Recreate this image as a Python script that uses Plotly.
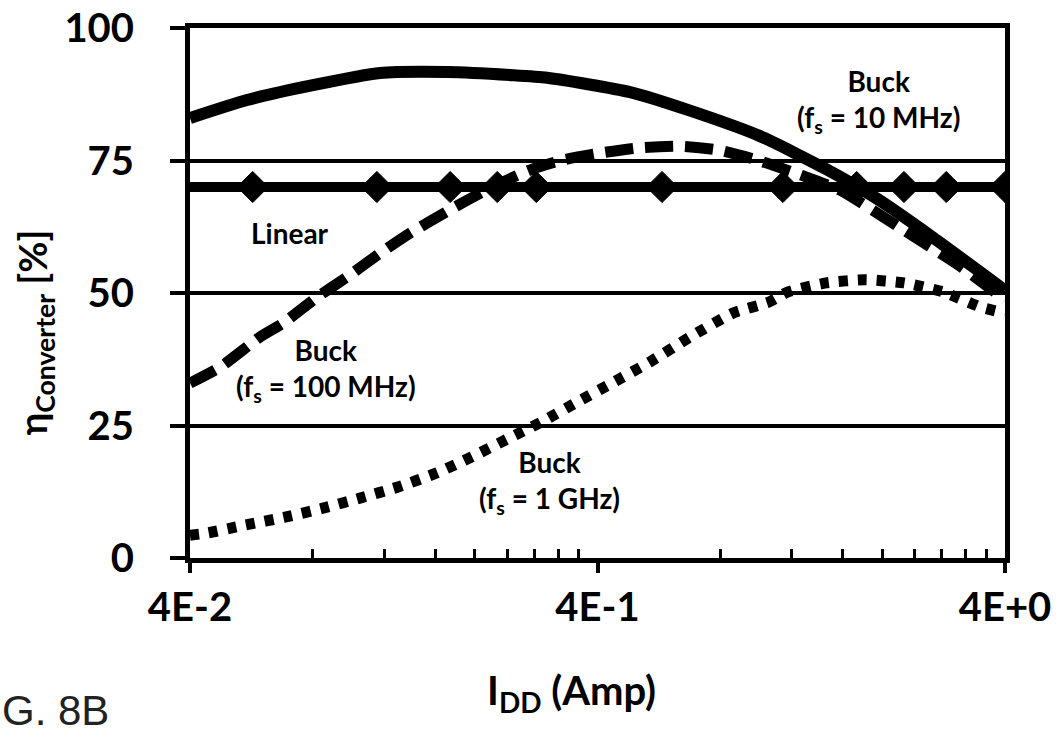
import plotly.graph_objects as go

# ---- data ----
buck10_x = [0.04, 0.0552, 0.0801, 0.117, 0.171, 0.248, 0.301, 0.481, 0.675, 1.002, 1.462, 1.94, 2.66, 4.0]
buck10_y = [83.0, 86.4, 89.2, 91.5, 91.7, 91.1, 90.6, 87.9, 84.4, 79.6, 73.3, 67.8, 60.5, 50.5]

buck100_x = [0.04, 0.0474, 0.0594, 0.0676, 0.082, 0.0971, 0.117, 0.1387, 0.1738, 0.218, 0.273, 0.329,
             0.406, 0.509, 0.638, 0.79, 0.985, 1.256, 1.574, 2.21, 3.10, 4.0]
buck100_y = [33.0, 36.0, 41.7, 44.3, 49.2, 53.0, 57.5, 61.3, 65.7, 69.8, 73.2, 75.1,
             76.4, 77.4, 77.7, 77.0, 75.1, 72.3, 69.4, 62.3, 55.1, 48.7]

buck1g_x = [0.04, 0.044, 0.0546, 0.0684, 0.0848, 0.1045, 0.1296, 0.1606, 0.1968, 0.241, 0.292, 0.356,
            0.434, 0.538, 0.675, 0.86, 1.054, 1.174, 1.455, 1.814, 2.26, 2.818, 3.47, 4.0]
buck1g_y = [4.3, 4.7, 6.2, 7.7, 9.4, 11.3, 13.4, 16.0, 19.1, 22.5, 25.7, 29.4,
            33.0, 37.0, 41.7, 46.2, 48.3, 50.2, 51.9, 52.5, 51.9, 50.2, 47.4, 46.2]

linear_x = [0.04, 0.057, 0.115, 0.174, 0.227, 0.283, 0.576, 1.14, 1.73, 2.26, 2.87, 4.0]
linear_y = [70, 70, 70, 70, 70, 70, 70, 70, 70, 70, 70, 70]
linear_marker_size = [0, 24, 24, 24, 24, 24, 24, 24, 24, 24, 24, 24]

x_tickvals = [0.04, 0.4, 4.0]
x_ticktext = ["4E-2", "4E-1", "4E+0"]
x_minor = [0.08, 0.12, 0.16, 0.2, 0.24, 0.28, 0.32, 0.36, 0.8, 1.2, 1.6, 2.0, 2.4, 2.8, 3.2, 3.6]
y_tickvals = [0, 25, 50, 75, 100]

FONT = "Lato"

fig = go.Figure()
fig.add_trace(go.Scatter(x=buck1g_x, y=buck1g_y, mode="lines", line_shape="spline",
                         line=dict(color="black", width=11, dash="9px,10px", smoothing=0.6)))
fig.add_trace(go.Scatter(x=buck100_x, y=buck100_y, mode="lines", line_shape="spline",
                         line=dict(color="black", width=11, dash="28px,12px", smoothing=0.6)))
fig.add_trace(go.Scatter(x=linear_x, y=linear_y, mode="lines+markers",
                         line=dict(color="black", width=10),
                         marker=dict(symbol="diamond", size=linear_marker_size, color="black",
                                     opacity=1, line=dict(width=1, color="black"))))
fig.add_trace(go.Scatter(x=buck10_x, y=buck10_y, mode="lines", line_shape="spline",
                         line=dict(color="black", width=12, smoothing=0.6)))

fig.update_layout(
    width=1063, height=738,
    margin=dict(l=190, r=58, t=28, b=180, autoexpand=False),
    paper_bgcolor="white", plot_bgcolor="white",
    showlegend=False,
    font=dict(family=FONT, color="black", size=40, weight="bold"),
)

fig.update_xaxes(
    type="log", range=[-1.39794, 0.60206], automargin=False,
    tickvals=x_tickvals, ticktext=x_ticktext,
    ticks="outside", ticklen=10, tickwidth=4, tickcolor="black",
    ticklabelstandoff=0,
    tickfont=dict(family=FONT, size=40, color="black", weight="bold"),
    showgrid=False, zeroline=False,
    showline=True, linecolor="black", linewidth=5, mirror=True,
    minor=dict(tickvals=x_minor, ticks="inside", ticklen=9, tickwidth=3, tickcolor="black", showgrid=False),
)
fig.update_yaxes(
    range=[0, 100], tickvals=y_tickvals, automargin=False,
    ticks="outside", ticklen=15, tickwidth=4, tickcolor="black",
    ticklabelstandoff=28,
    tickfont=dict(family=FONT, size=40, color="black", weight="bold"),
    showgrid=True, gridcolor="black", gridwidth=4, zeroline=False,
    showline=True, linecolor="black", linewidth=5, mirror=True,
)

ann_font = dict(family=FONT, size=28, color="black", weight="bold")
annotations = [
    dict(text="Linear", x=0.1227, y=0.6132),
    dict(text="Buck<br>(f<sub>s</sub> = 10 MHz)", x=0.8442, y=0.8623),
    dict(text="Buck<br>(f<sub>s</sub> = 100 MHz)", x=0.1669, y=0.3547),
    dict(text="Buck<br>(f<sub>s</sub> = 1 GHz)", x=0.4417, y=0.1434),
]
for a in annotations:
    fig.add_annotation(xref="paper", yref="paper", showarrow=False,
                       xanchor="center", yanchor="middle", font=ann_font, **a)

fig.add_annotation(xref="paper", yref="paper", showarrow=False,
                   text="I<sub>DD</sub> (Amp)", x=0.4675, y=-0.253,
                   xanchor="center", yanchor="middle",
                   font=dict(family=FONT, size=40, color="black", weight="bold"))
fig.add_annotation(xref="paper", yref="paper", showarrow=False,
                   text="η<sub>Converter</sub> [%]", x=-0.19, y=0.426, textangle=-90,
                   xanchor="center", yanchor="middle",
                   font=dict(family=FONT, size=38, color="black", weight="bold"))
fig.add_annotation(xref="paper", yref="paper", showarrow=False,
                   text="G. 8B", x=-0.2331, y=-0.2868,
                   xanchor="left", yanchor="middle",
                   font=dict(family="Liberation Sans", size=42, color="#222222", weight="normal"))

fig.write_html("out.html")
